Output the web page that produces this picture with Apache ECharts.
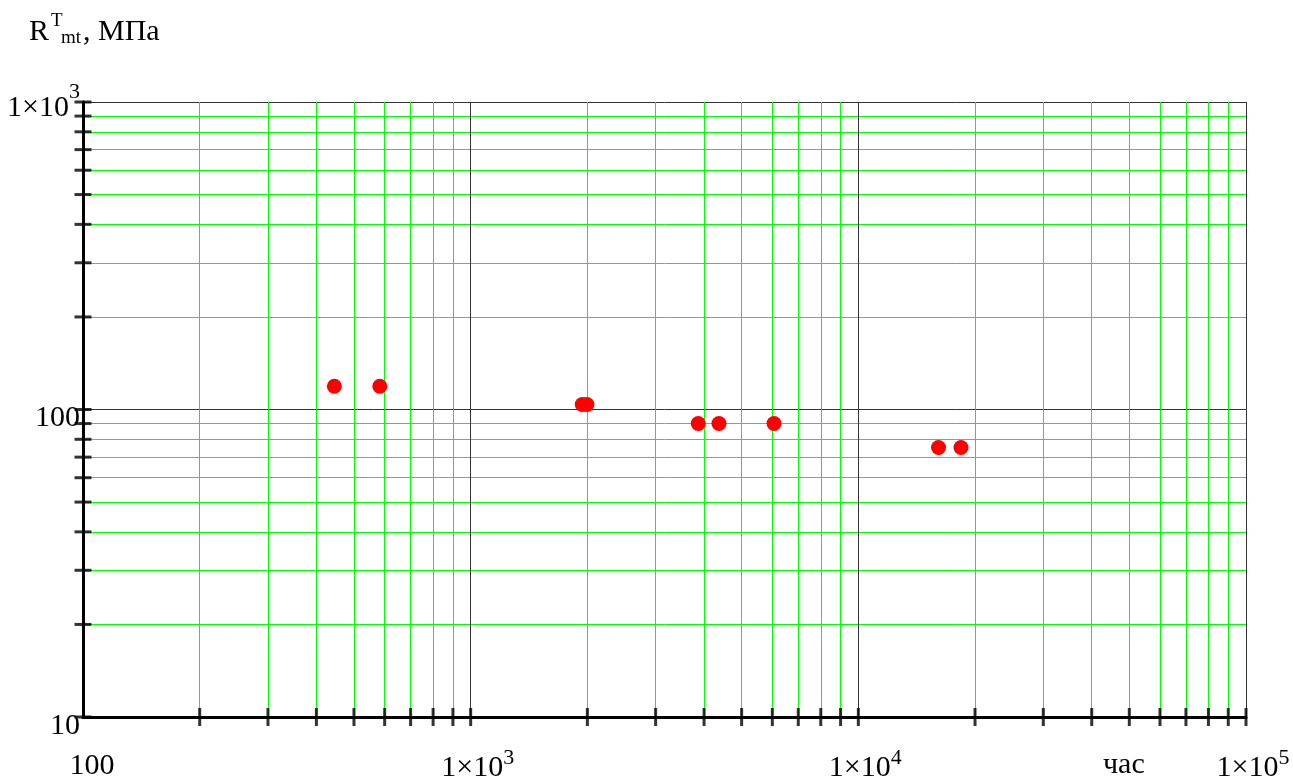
<!DOCTYPE html>
<html>
<head>
<meta charset="utf-8">
<script src="https://cdn.jsdelivr.net/npm/echarts@6/dist/echarts.min.js"></script>
<style>
  html, body { margin: 0; padding: 0; background: #fff; }
  #chart { width: 1293px; height: 783px; }
</style>
</head>
<body>
<div id="chart"></div>
<script>
// время до разрушения, час
const hours = [445, 583, 1940, 1995, 3865, 4370, 6060, 16100, 18400];
// предел длительной прочности, МПа
const stress = [119, 119, 103.8, 103.8, 90, 90, 90, 75.2, 75.2];

// деления осей
const xTicks = [200, 300, 400, 500, 600, 700, 800, 900, 1000,
    2000, 3000, 4000, 5000, 6000, 7000, 8000, 9000, 10000,
    20000, 30000, 40000, 50000, 60000, 70000, 80000, 90000, 100000];
const yTicks = [10, 20, 30, 40, 50, 60, 70, 80, 90, 100,
    200, 300, 400, 500, 600, 700, 800, 900, 1000];

const FONT = '"Liberation Serif", "DejaVu Serif", serif';

const chart = echarts.init(document.getElementById('chart'));

const option = {
    animation: false,
    backgroundColor: '#fff',
    grid: { left: 83, right: 47, top: 102, bottom: 66, outerBoundsMode: 'none', containLabel: false },
    xAxis: {
        type: 'log',
        logBase: 10,
        min: 100,
        max: 100000,
        interval: 1,
        axisLine: { lineStyle: { color: '#000', width: 3 } },
        axisTick: { show: false },
        minorTick: { show: false, splitNumber: 9 },
        splitLine: { show: true, lineStyle: { color: '#333', width: 1 } },
        minorSplitLine: { show: true, lineStyle: { color: '#00ff00', width: 1 } },
        axisLabel: {
            margin: 30,
            fontFamily: FONT,
            fontSize: 30,
            color: '#000',
            formatter: function (v) {
                if (v === 100) return '{p|100}';
                const e = Math.round(Math.log10(v));
                return '{b|1×10}{s|' + e + '}';
            },
            rich: {
                p: { fontFamily: FONT, fontSize: 30, color: '#000', padding: [4, 0, 0, 18], verticalAlign: 'bottom' },
                b: { fontFamily: FONT, fontSize: 30, color: '#000', padding: [0, 0, 0, 14], verticalAlign: 'bottom' },
                s: { fontFamily: FONT, fontSize: 22, color: '#000', verticalAlign: 'top', padding: [0, 0, 14, 0] }
            }
        }
    },
    yAxis: {
        type: 'log',
        logBase: 10,
        min: 10,
        max: 1000,
        interval: 1,
        axisLine: { lineStyle: { color: '#000', width: 3 } },
        axisTick: { show: false },
        minorTick: { show: false, splitNumber: 9 },
        splitLine: { show: true, lineStyle: { color: '#333', width: 1 } },
        minorSplitLine: { show: true, lineStyle: { color: '#00ff00', width: 1 } },
        axisLabel: {
            margin: 3,
            fontFamily: FONT,
            fontSize: 30,
            color: '#000',
            formatter: function (v) {
                if (v === 1000) return '{b|1×10}{s|3}';
                return '{n|' + v + '}';
            },
            rich: {
                n: { fontFamily: FONT, fontSize: 30, color: '#000', padding: [18, 0, 0, 0] },
                b: { fontFamily: FONT, fontSize: 30, color: '#000', verticalAlign: 'bottom', padding: [12, 0, 0, 0] },
                s: { fontFamily: FONT, fontSize: 22, color: '#000', verticalAlign: 'top', padding: [0, 0, 14, 0] }
            }
        }
    },
    graphic: [
        { type: 'text', x: 29, y: 17, style: { text: 'R', font: '30px ' + FONT, fill: '#000' } },
        { type: 'text', x: 51, y: 12, style: { text: 'T', font: '19px ' + FONT, fill: '#000' } },
        { type: 'text', x: 61, y: 29, style: { text: 'mt', font: '19px ' + FONT, fill: '#000' } },
        { type: 'text', x: 83, y: 17, style: { text: ', МПа', font: '30px ' + FONT, fill: '#000' } },
        { type: 'text', x: 1103, y: 750, style: { text: 'час', font: '30px ' + FONT, fill: '#000' } }
    ],
    series: [
        {
            // штрихи по оси X
            type: 'scatter',
            silent: true,
            clip: false,
            z: 5,
            symbol: 'rect',
            symbolSize: [3, 18],
            itemStyle: { color: '#000' },
            data: xTicks.map(v => [v, 10])
        },
        {
            // штрихи по оси Y
            type: 'scatter',
            silent: true,
            clip: false,
            z: 5,
            symbol: 'rect',
            symbolSize: [17, 3],
            itemStyle: { color: '#000' },
            data: yTicks.map(v => [100, v])
        },
        {
            type: 'scatter',
            z: 4,
            symbol: 'circle',
            symbolSize: 15,
            itemStyle: { color: '#ff0000', opacity: 1 },
            data: hours.map((h, i) => [h, stress[i]])
        }
    ]
};

chart.setOption(option);
</script>
</body>
</html>
